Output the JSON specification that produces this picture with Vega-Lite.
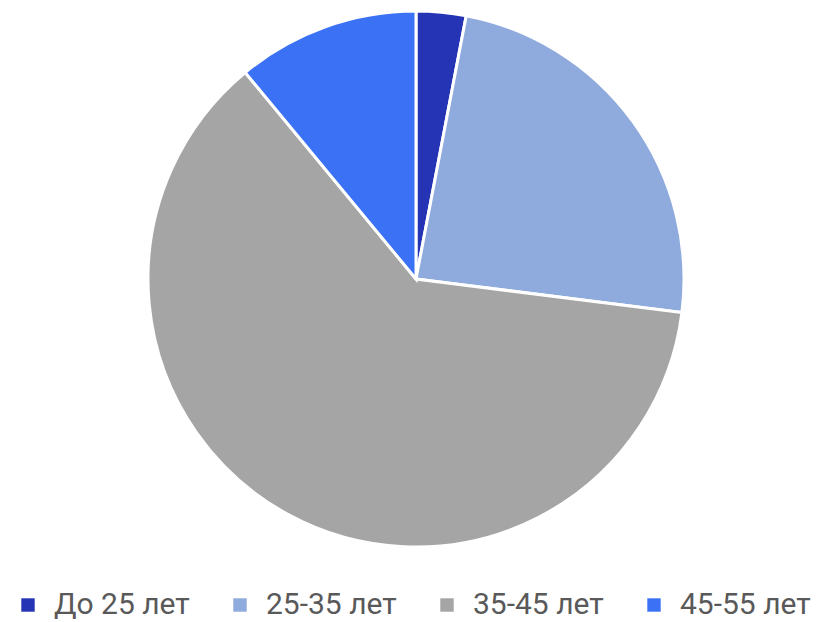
{
  "$schema": "https://vega.github.io/schema/vega-lite/v6.json",
  "width": 824,
  "height": 558,
  "padding": {"left": 4, "top": 0, "right": 0, "bottom": 64},
  "autosize": {"type": "none"},
  "background": "white",
  "data": {
    "values": [
      {"group": "До 25 лет", "value": 3, "ord": 1},
      {"group": "25-35 лет", "value": 24, "ord": 2},
      {"group": "35-45 лет", "value": 62, "ord": 3},
      {"group": "45-55 лет", "value": 11, "ord": 4}
    ]
  },
  "mark": {"type": "arc", "outerRadius": 268, "stroke": "white", "strokeWidth": 3},
  "encoding": {
    "theta": {"field": "value", "type": "quantitative", "stack": true},
    "order": {"field": "ord", "type": "quantitative"},
    "color": {
      "field": "group",
      "type": "nominal",
      "sort": null,
      "scale": {
        "domain": ["До 25 лет", "25-35 лет", "35-45 лет", "45-55 лет"],
        "range": ["#2434B4", "#8FAADC", "#A5A5A5", "#3B72F5"]
      },
      "legend": {
        "title": null,
        "orient": "none",
        "legendX": 9,
        "legendY": 590,
        "padding": 0,
        "direction": "horizontal",
        "symbolType": "square",
        "symbolSize": 180,
        "symbolStrokeWidth": 0,
        "labelFont": "Roboto",
        "labelFontSize": 30,
        "labelColor": "#595959",
        "labelOffset": 11,
        "columnPadding": 35,
        "labelLimit": 300
      }
    }
  },
  "config": {"view": {"stroke": null}}
}
